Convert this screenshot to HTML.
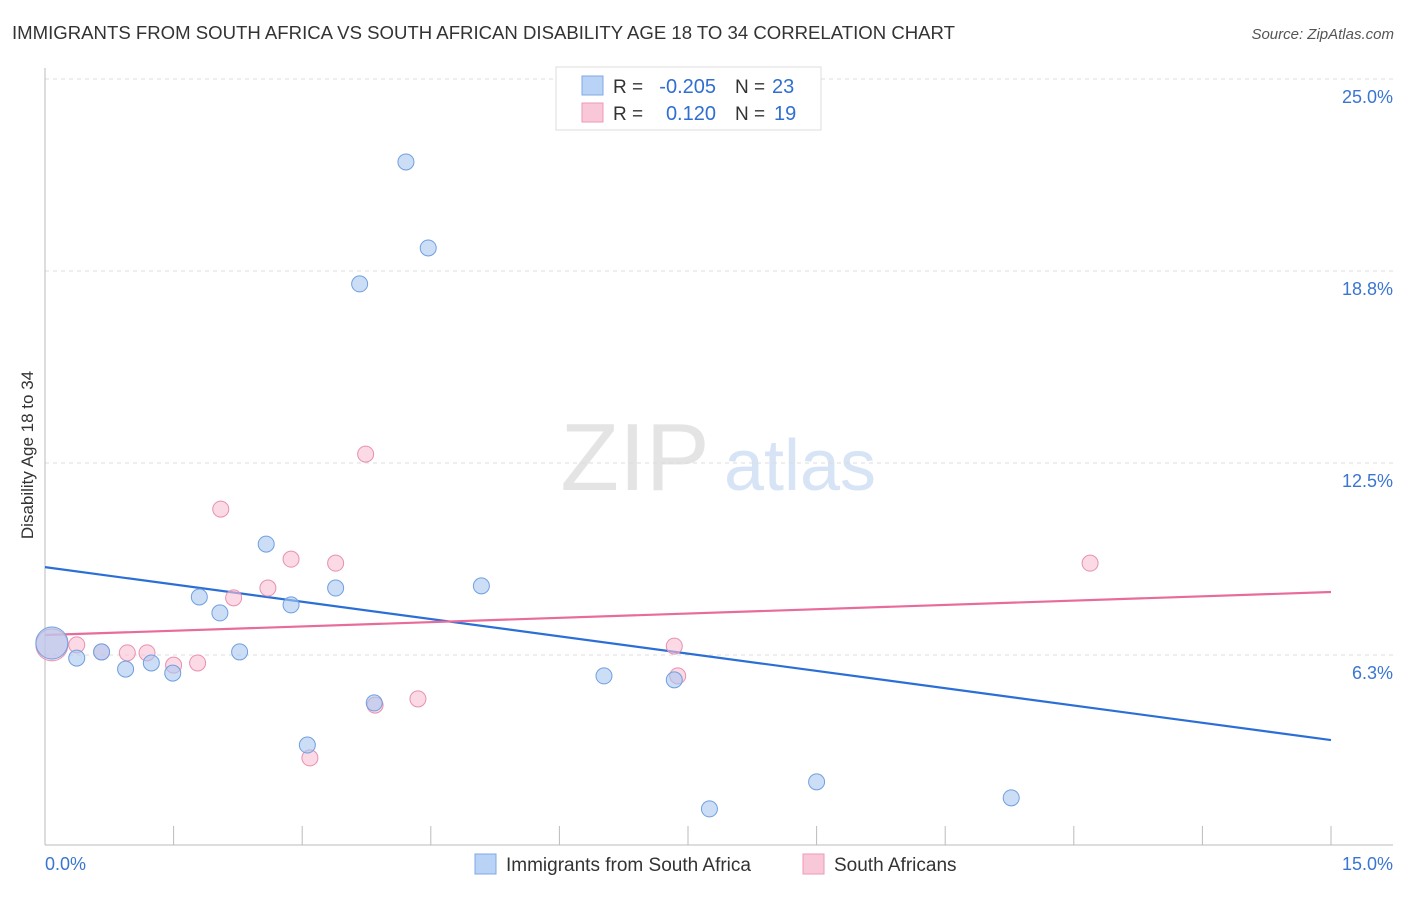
<!DOCTYPE html>
<html><head><meta charset="utf-8"><style>
body{margin:0;background:#fff;font-family:"Liberation Sans",sans-serif;}
svg text{font-family:"Liberation Sans",sans-serif;}
</style></head><body>
<svg id="chart" width="1406" height="892" xmlns="http://www.w3.org/2000/svg">
<text x="12" y="39" font-size="18" fill="#333" textLength="943" lengthAdjust="spacingAndGlyphs">IMMIGRANTS FROM SOUTH AFRICA VS SOUTH AFRICAN DISABILITY AGE 18 TO 34 CORRELATION CHART</text>
<text x="1394" y="39" font-size="15" fill="#555" font-style="italic" text-anchor="end">Source: ZipAtlas.com</text>
<g>
<text x="635" y="490" font-size="96" fill="#e4e4e4" font-family="Liberation Serif" text-anchor="middle">ZIP</text>
<text x="800" y="490" font-size="72" fill="#d6e4f5" text-anchor="middle">atlas</text>
</g>
<text transform="translate(33,455) rotate(-90)" font-size="17" fill="#333" text-anchor="middle">Disability Age 18 to 34</text>
<g id="grid"></g><g id="axes"></g><g id="lines"></g><g id="pts"></g>
<g>
<rect x="556" y="67" width="265" height="63" fill="#fff" stroke="#ddd"/>
<rect x="582" y="76" width="21" height="19" fill="#b8d3f5" stroke="#7fa9e5"/>
<rect x="582" y="103" width="21" height="19" fill="#f9c8d8" stroke="#ec9ab8"/>
<text x="613" y="93" font-size="19" fill="#333">R =</text>
<text x="716" y="93" font-size="20" fill="#2f6fd0" text-anchor="end">-0.205</text>
<text x="735" y="93" font-size="19" fill="#333">N =</text>
<text x="772" y="93" font-size="20" fill="#2f6fd0">23</text>
<text x="613" y="120" font-size="19" fill="#333">R =</text>
<text x="716" y="120" font-size="20" fill="#2f6fd0" text-anchor="end">0.120</text>
<text x="735" y="120" font-size="19" fill="#333">N =</text>
<text x="774" y="120" font-size="20" fill="#2f6fd0">19</text>
</g>
<g>
<rect x="475" y="854" width="21" height="20" fill="#b8d3f5" stroke="#7fa9e5"/>
<text x="506" y="871" font-size="19" fill="#333">Immigrants from South Africa</text>
<rect x="803" y="854" width="21" height="20" fill="#f9c8d8" stroke="#ec9ab8"/>
<text x="834" y="871" font-size="19" fill="#333">South Africans</text>
</g>
</svg>
<script>
const blueX=[0.08,0.37,0.66,0.94,1.24,1.49,1.80,2.04,2.27,2.58,2.87,3.06,3.39,3.67,3.84,4.21,4.47,5.09,6.52,7.34,7.75,9.00,11.27];
const blueY=[6.64,6.15,6.35,5.79,5.99,5.66,8.14,7.62,6.35,9.86,7.88,3.32,8.43,18.33,4.69,22.30,19.50,8.50,5.57,5.44,1.24,2.12,1.60];
const pinkX=[0.08,0.37,0.66,0.96,1.19,1.50,1.78,2.05,2.20,2.60,2.87,3.09,3.39,3.74,3.85,4.35,7.34,7.38,12.19];
const pinkY=[6.58,6.58,6.35,6.32,6.32,5.92,5.99,11.00,8.11,8.43,9.37,2.90,9.24,12.79,4.62,4.82,6.54,5.57,9.24];
const blueTrend=[9.11,3.48];
const pinkTrend=[6.90,8.30];
const yTicks=[6.25,12.5,18.75,25];
const yTickLabels=["6.3%","12.5%","18.8%","25.0%"];
const NS="http://www.w3.org/2000/svg";
const sx=v=>45+v/15*1286, sy=v=>847-v/6.25*192;
function mk(tag,attrs,parent){const e=document.createElementNS(NS,tag);for(const k in attrs)e.setAttribute(k,attrs[k]);document.getElementById(parent).appendChild(e);return e;}
yTicks.forEach((t,i)=>{
 const g=mk('line',{x1:45,x2:1393,y1:sy(t),y2:sy(t),stroke:'#ddd','stroke-dasharray':'4,4'},'grid');
 
 
 const l=mk('text',{x:1393,y:sy(t)+24,'font-size':18,fill:'#3a75d0','text-anchor':'end'},'grid');
 l.textContent=yTickLabels[i];
 
 
});
const ax=mk('line',{x1:45,x2:1393,y1:845,y2:845,stroke:'#bbb'},'axes');


const ay=mk('line',{x1:45,x2:45,y1:68,y2:845,stroke:'#bbb'},'axes');


for(let i=0;i<=10;i++){const t=mk('line',{x1:sx(i*1.5),x2:sx(i*1.5),y1:826,y2:845,stroke:'#bbb'},'axes');
 
 }
const xl0=mk('text',{x:45,y:870,'font-size':18,fill:'#3a75d0'},'axes');xl0.textContent='0.0%';


const xl1=mk('text',{x:1393,y:870,'font-size':18,fill:'#3a75d0','text-anchor':'end'},'axes');xl1.textContent='15.0%';


function pts(X,Y,fill,stroke,name){X.forEach((x,i)=>{const c=mk('circle',{cx:sx(x),cy:sy(Y[i]),r:i===0?16:8,fill:fill,'fill-opacity':0.6,stroke:stroke,'stroke-width':1},'pts');
 
 });}
pts(pinkX,pinkY,'#f9c0d4','#e890b0','point-south-africans');
pts(blueX,blueY,'#a8c8f0','#6f9fe0','point-immigrants');
const bl=mk('line',{x1:45,x2:1331,y1:sy(blueTrend[0]),y2:sy(blueTrend[1]),stroke:'#2b6fd6','stroke-width':2.2},'lines');


const pl=mk('line',{x1:45,x2:1331,y1:sy(pinkTrend[0]),y2:sy(pinkTrend[1]),stroke:'#e86c9a','stroke-width':2.2},'lines');


</script>
</body></html>
